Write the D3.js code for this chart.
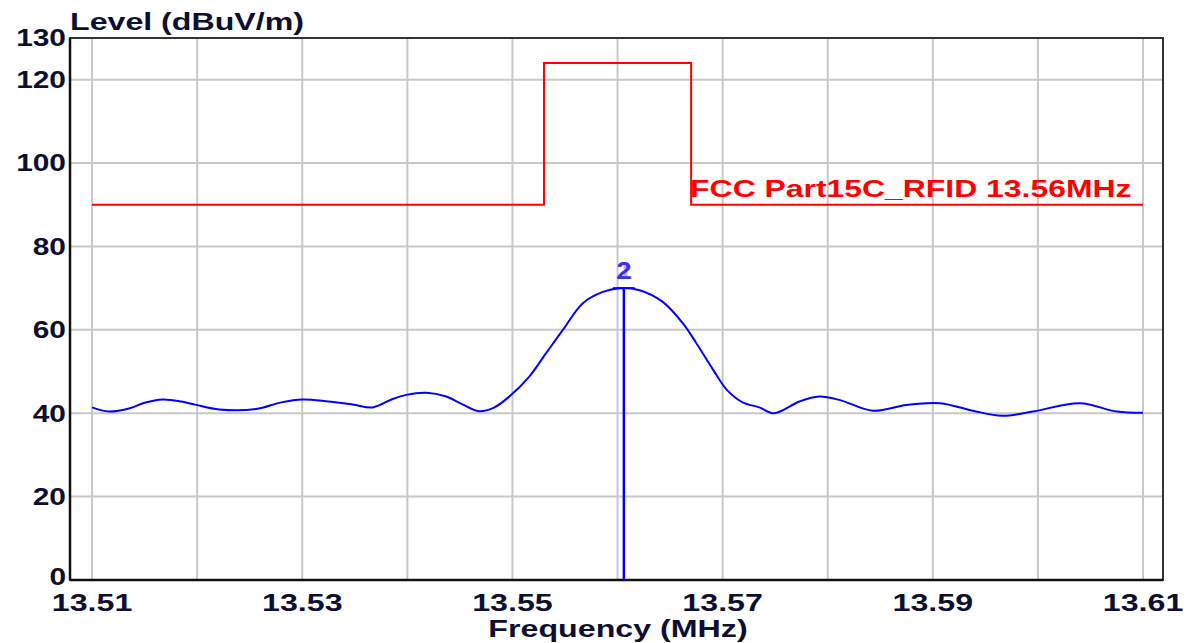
<!DOCTYPE html>
<html><head><meta charset="utf-8">
<script src="https://cdn.jsdelivr.net/npm/d3@7"></script>
<style>body{margin:0;background:#fff;}svg{display:block;}</style>
</head><body>
<svg id="c" width="1190" height="643"></svg>
<script>
const freq = [13.5100,13.5116,13.5136,13.5150,13.5167,13.5185,13.5199,13.5221,13.5256,13.5280,13.5300,13.5325,13.5348,13.5367,13.5385,13.5399,13.5418,13.5437,13.5452,13.5468,13.5482,13.5497,13.5516,13.5532,13.5548,13.5567,13.5586,13.5602,13.5621,13.5643,13.5662,13.5675,13.5691,13.5704,13.5719,13.5735,13.5749,13.5773,13.5792,13.5811,13.5843,13.5875,13.5907,13.5938,13.5966,13.5995,13.6040,13.6075,13.6100];
const level = [41.4,40.4,41.2,42.5,43.3,42.8,42.0,40.9,41.0,42.6,43.3,42.8,42.1,41.4,43.3,44.4,44.9,44.0,42.2,40.5,41.3,44.0,48.8,54.4,60.0,66.4,69.1,70.0,69.5,66.7,61.6,56.8,50.4,45.6,42.6,41.4,40.0,42.8,44.0,43.2,40.6,42.0,42.4,40.6,39.4,40.4,42.4,40.4,40.1];
const limitFreq = [13.51,13.553,13.553,13.567,13.567,13.61];
const limitLevel = [90,90,124,124,90,90];
const limitName = "FCC Part15C_RFID 13.56MHz";
const markerFreq = 13.5606, markerLevel = 70;
const xTicks = [13.51,13.52,13.53,13.54,13.55,13.56,13.57,13.58,13.59,13.60,13.61];
const xLabels = [13.51,13.53,13.55,13.57,13.59,13.61];
const yGrid = [20,40,60,80,100,120];
const yLabels = [0,20,40,60,80,100,120,130];

const svg = d3.select("#c");
const L=70,T=38,R=1163,B=580;
const x = d3.scaleLinear().domain([13.5079,13.6119]).range([L,R]);
const y = d3.scaleLinear().domain([0,130]).range([B,T]);
const txt = "#0e0e30";
const font = "'Liberation Sans', Arial, sans-serif";
const SX = 1.34;

function label(g, tx, ty, s, opt) {
  const t = g.append("text")
    .attr("transform", `translate(${tx},${ty}) scale(${opt.sx||SX},1)`)
    .attr("font-family", font).attr("font-weight", "bold")
    .attr("font-size", opt.size || 24)
    .attr("fill", opt.fill || txt)
    .attr("text-anchor", opt.anchor || "start")
    .text(s);
  if (opt.dy) t.attr("dy", opt.dy);
  if (opt.opacity) t.attr("opacity", opt.opacity);
  return t;
}

// grid
svg.append("g").selectAll("line").data(xTicks).join("line")
  .attr("x1",d=>x(d)).attr("x2",d=>x(d)).attr("y1",T).attr("y2",B)
  .attr("stroke","#c8c8c8").attr("stroke-width",2);
svg.append("g").selectAll("line").data(yGrid).join("line")
  .attr("y1",d=>y(d)).attr("y2",d=>y(d)).attr("x1",L).attr("x2",R)
  .attr("stroke","#c8c8c8").attr("stroke-width",2);

// frame
svg.append("rect").attr("x",L).attr("y",T).attr("width",R-L).attr("height",B-T)
  .attr("fill","none").attr("stroke","#333").attr("stroke-width",2);
svg.append("line").attr("x1",L).attr("x2",L).attr("y1",T).attr("y2",B).attr("stroke","#111").attr("stroke-width",2.5);
svg.append("line").attr("x1",L).attr("x2",R).attr("y1",B).attr("y2",B).attr("stroke","#111").attr("stroke-width",2.5);

// limit line
const lim = limitFreq.map((f,i)=>[f,limitLevel[i]]);
svg.append("path").datum(lim)
  .attr("d",d3.line().x(d=>x(d[0])).y(d=>y(d[1])))
  .attr("fill","none").attr("stroke","#ff0000").attr("stroke-width",2);
label(svg, x(13.567)-1, y(90)-8, limitName, {size:24, fill:"#ff0000", sx:1.33});

// trace
const tr = freq.map((f,i)=>[f,level[i]]);
svg.append("path").datum(tr)
  .attr("d",d3.line().curve(d3.curveCatmullRom.alpha(0.5)).x(d=>x(d[0])).y(d=>y(d[1])))
  .attr("fill","none").attr("stroke","#0000ff").attr("stroke-width",2);

// marker
svg.append("line").attr("x1",x(markerFreq)).attr("x2",x(markerFreq)).attr("y1",y(markerLevel)).attr("y2",B)
  .attr("stroke","#0000ff").attr("stroke-width",2.5);
svg.append("line").attr("x1",x(markerFreq)-11).attr("x2",x(markerFreq)+11).attr("y1",y(markerLevel)).attr("y2",y(markerLevel))
  .attr("stroke","#0000ff").attr("stroke-width",2);
label(svg, x(markerFreq)+1, y(markerLevel)-9, "1", {size:23, fill:"#b070ff", opacity:0.6, anchor:"middle", sx:1.2});
label(svg, x(markerFreq), y(markerLevel)-9, "2", {size:23, fill:"#3333ee", anchor:"middle", sx:1.2});

// y labels
const gy = svg.append("g");
yLabels.forEach(d => label(gy, 66, y(d), String(d), {anchor:"end", dy: d === 0 ? "0.22em" : "0.36em", sx:1.3, size:23}));
// x labels
const gx = svg.append("g");
xLabels.forEach(d => label(gx, x(d), 611, d.toFixed(2), {anchor:"middle", size:23, sx:1.4}));

label(svg, 70, 30, "Level (dBuV/m)", {size:24});
label(svg, 618, 637, "Frequency (MHz)", {anchor:"middle", size:23, sx:1.4});
</script>
</body></html>
